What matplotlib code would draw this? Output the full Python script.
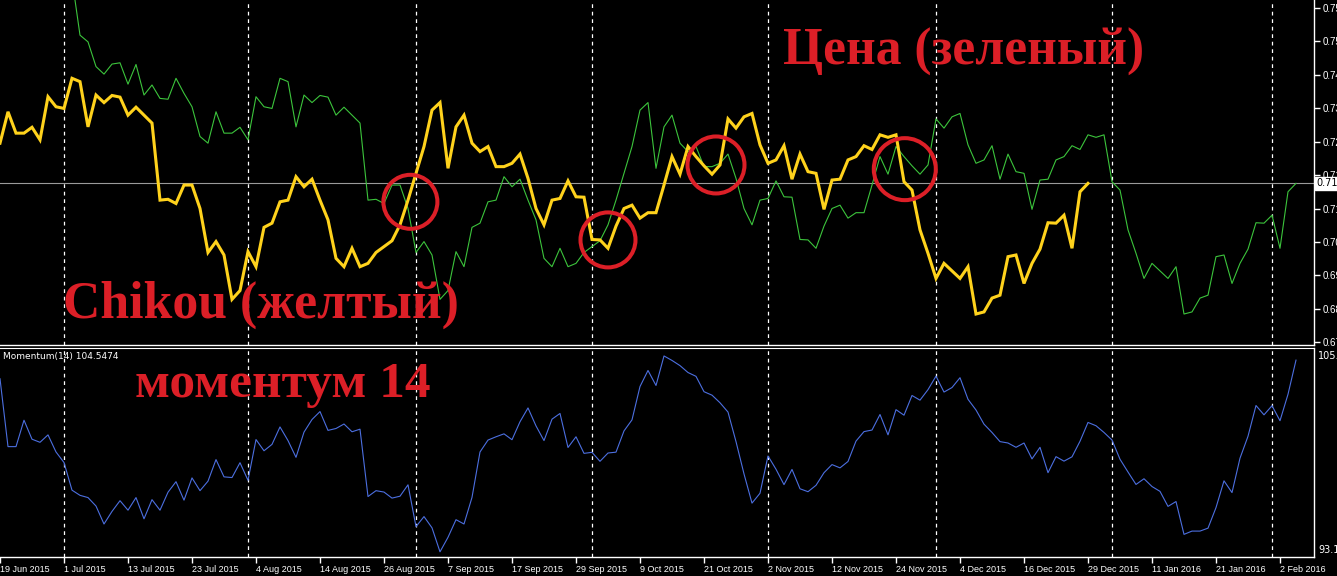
"""
Ichimoku Chikou vs price + Momentum(14), MT4-style screenshot redraw
"""

import numpy as np
import pandas as pd
import matplotlib
matplotlib.use("Agg")
import matplotlib.pyplot as plt

# Main Vars
# daily bars (weekends, 25 Dec and 1 Jan skipped)
dates = pd.bdate_range("2015-06-19", "2016-02-04")
dates = dates[~dates.isin(pd.to_datetime(["2015-12-25", "2016-01-01"]))]

# close prices, first visible bar is bar 9
first_close_bar = 9
close = [
    0.7658, 0.7524, 0.7508, 0.7449, 0.7431, 0.7455, 0.7458, 0.7407, 0.7454, 0.7381,
    0.7405, 0.7373, 0.7371, 0.7421, 0.7385, 0.7353, 0.7282,
    0.7266, 0.7341, 0.7290, 0.7290, 0.7304, 0.7274, 0.7377, 0.7353, 0.7349, 0.7421,
    0.7413, 0.7305, 0.7381, 0.7363, 0.7380, 0.7376, 0.7333, 0.7352, 0.7333, 0.7314,
    0.7130, 0.7132, 0.7122, 0.7166, 0.7166, 0.7110, 0.7005, 0.7031, 0.6999, 0.6893,
    0.6914, 0.7007, 0.6971, 0.7065, 0.7075, 0.7126, 0.7130, 0.7186, 0.7162, 0.7180,
    0.7130, 0.7083, 0.6991, 0.6971, 0.7015, 0.6971, 0.6979, 0.7005, 0.7019, 0.7033,
    0.7071, 0.7130, 0.7194, 0.7258, 0.7345, 0.7363, 0.7206, 0.7305, 0.7333, 0.7266,
    0.7246, 0.7258, 0.7210, 0.7210, 0.7218, 0.7240, 0.7182, 0.7110, 0.7071, 0.7130,
    0.7134, 0.7176, 0.7138, 0.7137, 0.7036, 0.7035, 0.7015, 0.7068, 0.7110, 0.7118,
    0.7087, 0.7100, 0.7100, 0.7166, 0.7234, 0.7192, 0.7258, 0.7234, 0.7212, 0.7192,
    0.7214, 0.7324, 0.7302, 0.7329, 0.7337, 0.7262, 0.7218, 0.7226, 0.7260, 0.7180,
    0.7240, 0.7198, 0.7194, 0.7108, 0.7178, 0.7180, 0.7226, 0.7234, 0.7260, 0.7251,
    0.7286, 0.7280, 0.7286, 0.7174, 0.7154, 0.7059, 0.7003, 0.6943, 0.6979, 0.6961,
    0.6943, 0.6971, 0.6858, 0.6863, 0.6896, 0.6903, 0.6995, 0.6999, 0.6931, 0.6979,
    0.7013, 0.7076, 0.7075, 0.7094, 0.7015, 0.7150, 0.7170,
]
chikou_shift = 26

momentum = [
    103.47, 99.54, 99.54, 101.07, 99.97, 99.79, 100.22, 99.23, 98.62, 97.02,
    96.72, 96.59, 96.10, 95.06, 95.79, 96.41, 95.86, 96.59, 95.36, 96.47,
    95.86, 96.90, 97.51,
    96.44, 97.73, 96.99, 97.54, 98.79, 97.79, 97.75, 98.61, 97.59, 99.95,
    99.30, 99.67, 100.68, 99.89, 98.92, 100.38, 101.11, 101.57, 100.48, 100.59,
    100.85, 100.40, 100.55, 96.65, 96.99, 96.91, 96.56, 96.67, 97.33, 94.91,
    95.49, 94.84, 93.45, 94.29, 95.31, 95.06, 96.60, 99.23, 99.92, 100.11,
    100.28, 99.94, 100.98, 101.78, 100.74, 99.89, 101.13, 101.46, 99.49, 100.11,
    99.15, 99.21, 98.69, 99.17, 99.22, 100.45, 101.09, 103.02, 103.95, 103.08,
    104.79, 104.53, 104.23, 103.83, 103.61, 102.72, 102.52, 102.08, 101.54, 99.83,
    97.96, 96.27, 96.84, 99.00, 98.23, 97.34, 98.22, 97.10, 96.93, 97.30,
    98.03, 98.50, 98.31, 98.68, 99.86, 100.41, 100.50, 101.40, 100.22, 101.68,
    101.36, 102.50, 102.23, 102.84, 103.62, 102.70, 102.96, 103.53, 102.28, 101.66,
    100.84, 100.36, 99.83, 99.75, 99.50, 99.75, 98.83, 99.50, 98.03, 98.96,
    98.70, 98.95, 99.85, 100.94, 100.75, 100.36, 99.92, 98.81, 98.07, 97.35,
    97.68, 97.23, 96.95, 96.08, 96.36, 94.46, 94.65, 94.65, 94.82, 96.01,
    97.56, 96.88, 98.87, 100.14, 101.92, 101.38, 101.91, 101.04, 102.57, 104.5474,
]

price_ticks = [0.6790 + 0.008 * k for k in range(11)]
momentum_top, momentum_bottom = 105.25, 93.15

# annotation circles: (bar, price, diameter in px)
circles = [(51.3, 0.7126, 54), (76.0, 0.7035, 55), (89.5, 0.7214, 57), (113.1, 0.7204, 62)]

RED = "#dc1f27"
W, H = 1337, 576

# Main Functions
def fx(px):
    return px / W

def fy(py):
    return 1 - py / H

fig = plt.figure(figsize=(W / 100, H / 100), dpi=100, facecolor="black")
ax = fig.add_axes([0, fy(345), fx(1314), 345 / H], facecolor="black")
ax2 = fig.add_axes([0, fy(557), fx(1314), 209 / H], facecolor="black")

n = len(dates)
xlim = (0, 164.25)
bars_close = np.arange(first_close_bar, first_close_bar + len(close))
close = np.array(close)

# Price (green) and Chikou (yellow)
ax.plot(bars_close, close, color="#3cc43c", lw=0.8, zorder=3)
chikou_x = bars_close - chikou_shift
keep = chikou_x >= 0
ax.plot(chikou_x[keep], close[keep], color="#ffd21c", lw=2.2, zorder=4,
        solid_joinstyle="miter")
ax.axhline(close[-1], color="#9a9a9a", lw=0.8, zorder=2)

# circles
for cx, cy, d in circles:
    ax.scatter([cx], [cy], s=(d * 0.72) ** 2, facecolors="none", edgecolors=RED,
               linewidths=2.9, zorder=6)

# Momentum (blue)
ax2.plot(np.arange(len(momentum)), momentum, color="#4c6fe0", lw=0.8, zorder=3)

# month separators
month_start = [i for i in range(1, n) if dates[i].month != dates[i - 1].month]
for a in (ax, ax2):
    for i in month_start:
        a.axvline(i, color="white", lw=0.9, ls=(0, (3, 3)), zorder=1)
    a.set_xlim(*xlim)
    for s in ("left", "top"):
        a.spines[s].set_visible(False)
    for s in ("right", "bottom"):
        a.spines[s].set_color("white")
        a.spines[s].set_linewidth(1.0)

ax2.spines["top"].set_visible(True)
ax2.spines["top"].set_color("white")

# price scale
ax.set_ylim(0.6784, 0.7608)
ax.yaxis.tick_right()
ax.set_yticks(price_ticks)
ax.set_yticklabels(["%.5f" % t for t in price_ticks])
ax.tick_params(axis="y", colors="white", length=4, width=1, pad=2, labelsize=7)
ax.tick_params(axis="x", bottom=False, labelbottom=False)
ax.text(1.0015, close[-1], "%.5f" % close[-1], transform=ax.get_yaxis_transform(),
        ha="left", va="center", fontsize=7, color="black",
        bbox=dict(boxstyle="square,pad=0.15", fc="white", ec="white"), zorder=10,
        clip_on=False)

# momentum scale
ax2.set_ylim(momentum_bottom, momentum_top)
ax2.set_yticks([])
ax2.text(1.003, 1 - 8 / 209, "%.4f" % momentum_top, transform=ax2.transAxes,
         color="white", fontsize=7, va="center", ha="left")
ax2.text(1.003, 7 / 209, "%.4f" % momentum_bottom, transform=ax2.transAxes,
         color="white", fontsize=7, va="center", ha="left")
ax2.text(3 / 1314, 1 - 8 / 209, "Momentum(14) %.4f" % momentum[-1], transform=ax2.transAxes,
         color="white", fontsize=6.5, va="center", ha="left")

# date axis
tick_bars = list(range(0, n, 8))
ax2.set_xticks(tick_bars)
ax2.set_xticklabels(["%d %s" % (dates[i].day, dates[i].strftime("%b %Y")) for i in tick_bars],
                    ha="left")
ax2.tick_params(axis="x", colors="white", length=4, width=1, pad=2, labelsize=6.5)
for lab in ax2.get_xticklabels():
    lab.set_fontfamily("Liberation Sans")
for lab in ax.get_yticklabels():
    lab.set_fontfamily("Liberation Sans")

# captions
cap = dict(color=RED, fontfamily="Liberation Serif", fontweight="bold", va="baseline", ha="left")
fig.text(fx(783), fy(65), "Цена (зеленый)", fontsize=37.2, **cap)
fig.text(fx(63), fy(318), "Chikou (желтый)", fontsize=37.3, **cap)
fig.text(fx(135), fy(397), "моментум 14", fontsize=37, **cap)

fig.savefig("out.png", dpi=100, facecolor="black")
